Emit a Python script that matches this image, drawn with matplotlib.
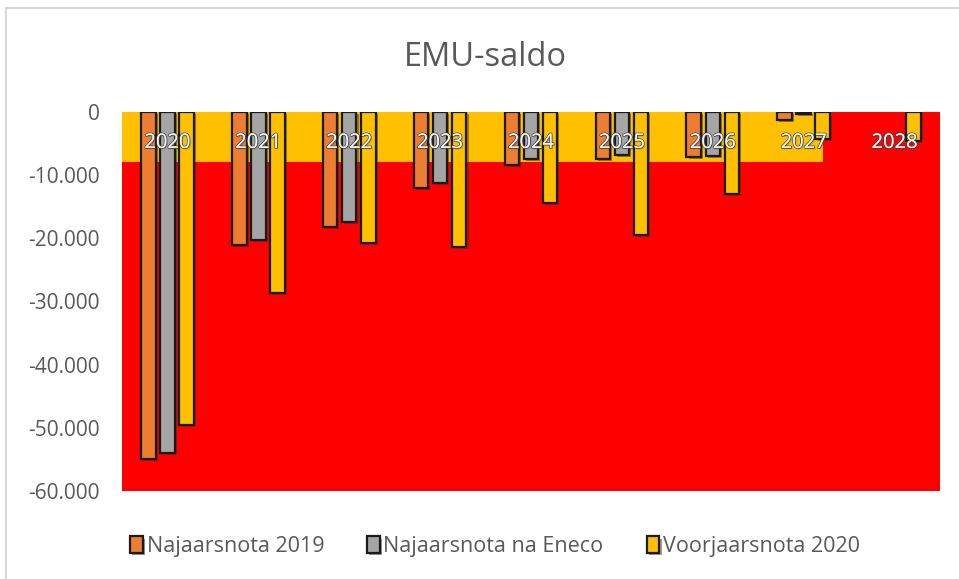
import numpy as np
import matplotlib
matplotlib.use("Agg")
import matplotlib.pyplot as plt
import matplotlib.patheffects as pe
from matplotlib.lines import Line2D
from matplotlib.ticker import FuncFormatter

plt.rcParams['font.family'] = ['Open Sans', 'DejaVu Sans']

# data (miljoen euro)
jaren = ['2020', '2021', '2022', '2023', '2024', '2025', '2026', '2027', '2028']
najaarsnota_2019 = [-55000, -21000, -18200, -12100, -8400, -7400, -7100, -1300, 0]
najaarsnota_eneco = [-54000, -20300, -17400, -11200, -7500, -6800, -6900, -300, 0]
voorjaarsnota_2020 = [-49500, -28600, -20700, -21300, -14400, -19500, -13000, -4200, -4600]

# achtergrondvlakken
band_niveau = -7900
band_einde = 7.21   # in categorie-eenheden
y_onder = -60000

fig = plt.figure(figsize=(9.59, 5.79), dpi=100)
ax = fig.add_axes([0.1272, 0.152, 0.8530, 0.6546])

x = np.arange(len(jaren))
ax.set_xlim(-0.5, len(jaren) - 0.5)
ax.set_ylim(y_onder, 0)

# rode en gele achtergrond
ax.axhspan(y_onder, 0, color='#FF0000', zorder=0)
ax.fill_between([-0.5, band_einde], band_niveau, 0, color='#FFC000', zorder=1, linewidth=0)

breedte = 0.16
stap = 0.21
schaduw = [pe.SimplePatchShadow(offset=(1.5, -1.5), alpha=0.5), pe.Normal()]
reeksen = [(najaarsnota_2019, '#ED7D31', 'Najaarsnota 2019'),
           (najaarsnota_eneco, '#A5A5A5', 'Najaarsnota na Eneco'),
           (voorjaarsnota_2020, '#FFC000', 'Voorjaarsnota 2020')]
for i, (waarden, kleur, naam) in enumerate(reeksen):
    bars = ax.bar(x + (i - 1) * stap, waarden, width=breedte, color=kleur,
                  edgecolor='#1a1a1a', linewidth=1.6, label=naam, zorder=3)
    for b, w in zip(bars, waarden):
        b.set_path_effects(schaduw)
        if w == 0:
            b.set_visible(False)

# categorie-labels binnen het plotvlak
for xi, jaar in zip(x, jaren):
    ax.text(xi, -4900, jaar, ha='center', va='center', fontsize=14.5,
            color='#f2f2f2', zorder=5,
            path_effects=[pe.withStroke(linewidth=1.2, foreground='#404040'),
                          pe.SimplePatchShadow(offset=(1, -1)), pe.Normal()])

ax.set_xticks([])
ax.set_yticks(np.arange(y_onder, 1, 10000))
ax.yaxis.set_major_formatter(FuncFormatter(lambda v, p: '{:,.0f}'.format(v).replace(',', '.')))
ax.tick_params(axis='y', length=0, labelsize=15, labelcolor='#595959', pad=16)
for s in ax.spines.values():
    s.set_visible(False)

fig.text(0.506, 0.9, 'EMU-saldo', ha='center', va='center', fontsize=23.5, color='#595959')

leg = ax.legend(loc='upper center', bbox_to_anchor=(0.456, -0.068), ncol=3, frameon=False,
                fontsize=15.5, handlelength=0.6, handleheight=0.8, handletextpad=0.15,
                columnspacing=2.0, labelcolor='#595959')

# lichte rand van de grafiek
fig.add_artist(Line2D([0.006, 1.0], [0.986, 0.986], color='#d9d9d9', lw=1.5))
fig.add_artist(Line2D([0.006, 0.006], [0.0, 0.986], color='#d9d9d9', lw=1.5))

plt.savefig('out.png', dpi=100)
